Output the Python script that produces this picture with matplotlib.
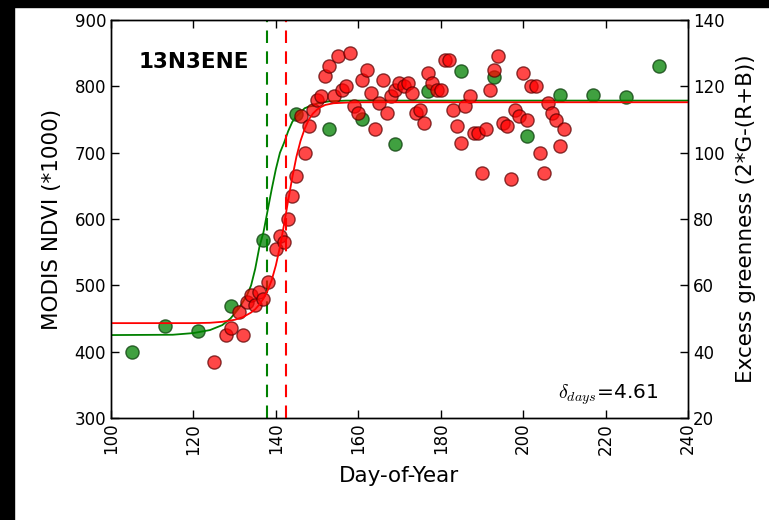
"""Spring green-up at site 13N3ENE: MODIS NDVI vs camera excess greenness."""
import numpy as np
import matplotlib
matplotlib.use("Agg")
import matplotlib.pyplot as plt  # noqa: E402
from matplotlib.patches import Rectangle  # noqa: E402

plt.rcParams["font.family"] = "DejaVu Sans"
plt.rcParams["mathtext.fontset"] = "cm"

SITE = "13N3ENE"
DELTA_DAYS = 4.61

# MODIS NDVI (*1000), daily
ndvi_doy = [125, 128, 129, 131, 132, 133, 134, 135, 136, 137, 138, 140, 141,
            142, 143, 144, 145, 146, 147, 148, 149, 150, 151, 152, 153, 154,
            155, 156, 157, 158, 159, 160, 161, 162, 163, 164, 165, 166, 167,
            168, 169, 170, 171, 172, 173, 174, 175, 176, 177, 178, 179, 180,
            181, 182, 183, 184, 185, 186, 187, 188, 189, 190, 191, 192, 193,
            194, 195, 196, 197, 198, 199, 200, 201, 202, 203, 204, 205, 206,
            207, 208, 209, 210]
ndvi_val = [385, 425, 435, 460, 425, 475, 485, 470, 490, 480, 505, 555, 575,
            565, 600, 635, 665, 755, 700, 740, 765, 780, 785, 815, 830, 785,
            845, 795, 800, 850, 770, 760, 810, 825, 790, 735, 775, 810, 760,
            785, 795, 805, 800, 805, 790, 760, 765, 745, 820, 805, 795, 795,
            840, 840, 765, 740, 715, 770, 785, 730, 730, 670, 735, 795, 825,
            845, 745, 740, 660, 765, 755, 820, 750, 800, 800, 700, 670, 775,
            760, 750, 710, 735]

# camera excess greenness, 8-day
exg_doy = [105, 113, 121, 129, 137, 145, 153, 161, 169, 177, 185, 193, 201,
           209, 217, 225, 233]
exg_val = [40.0, 47.8, 46.2, 53.9, 73.7, 111.7, 107.0, 110.2, 102.5, 118.6,
           124.6, 122.9, 105.0, 117.3, 117.3, 116.7, 126.1]

# fitted curves
ndvi_fit_doy = [100, 120, 124, 127, 130, 132, 134, 135, 136, 137, 138, 139,
                140, 141, 142, 143, 144, 145, 146, 147, 148, 149, 150, 151,
                152, 154, 157, 160, 240]
ndvi_fit_val = [443, 443, 443.5, 445, 448, 452, 459, 464, 471, 480, 492, 508,
                530, 558, 592, 628, 663, 694, 718, 736, 750, 759, 765, 769,
                772, 774.5, 775.5, 776, 776]
exg_fit_doy = [100, 115, 120, 124, 127, 129, 131, 133, 134, 135, 136, 137,
               138, 139, 140, 141, 142, 143, 144, 145, 146, 147, 148, 149,
               150, 153, 157, 240]
exg_fit_val = [45.0, 45.1, 45.6, 46.5, 48, 50, 53, 57, 60, 65, 71.5, 76,
               82.5, 89, 95, 100, 103, 106.5, 109.3, 111, 112.2, 113.4, 113.9,
               114.1, 114.9, 115.5, 115.7, 115.7]

# green-up dates (half-amplitude) of each fit
exg_mid = 137.86
ndvi_mid = 142.47

fig = plt.figure(figsize=(7.69, 5.2), dpi=100)
ax = fig.add_axes([0.1443, 0.1962, 0.7504, 0.7653])
ax2 = ax.twinx()
ax.set_zorder(ax2.get_zorder() + 1)
ax.patch.set_visible(False)

ax2.plot(exg_doy, exg_val, "o", color="g", alpha=0.75, ms=9.5, mec="#0b3d0b",
         mew=1.0)
ax2.plot(exg_fit_doy, exg_fit_val, "-", color="g", lw=1.3)
ax2.axvline(exg_mid, color="g", ls=(0, (6, 4)), lw=1.5)

ax.plot(ndvi_doy, ndvi_val, "o", color="r", alpha=0.72, ms=9.5, mec="#5a0000",
        mew=1.0)
ax.plot(ndvi_fit_doy, ndvi_fit_val, "-", color="r", lw=1.3)
ax.axvline(ndvi_mid, color="r", ls=(0, (6, 4)), lw=1.5)

ax.set_xlim(100, 240)
ax.set_ylim(300, 900)
ax2.set_ylim(20, 140)
ax.set_xticks(np.arange(100, 241, 20))
ax.set_yticks(np.arange(300, 901, 100))
ax2.set_yticks(np.arange(20, 141, 20))
for a in (ax, ax2):
    a.tick_params(direction="in", length=6, width=1, labelsize=12)
    for s in a.spines.values():
        s.set_linewidth(1.0)
ax.tick_params(axis="x", top=True, labelrotation=90)
ax.tick_params(axis="y", right=False)

ax.set_xlabel("Day-of-Year", fontsize=15.5, labelpad=8)
ax.set_ylabel("MODIS NDVI (*1000)", fontsize=15.5, labelpad=9)
ax2.set_ylabel("Excess greenness (2*G-(R+B))", fontsize=15.5, labelpad=8)

ax.text(0.047, 0.894, SITE, transform=ax.transAxes, fontsize=15.5,
        fontweight="bold", va="center", ha="left")
ax.text(0.948, 0.048, r"$\delta_{days}$=%.2f" % DELTA_DAYS,
        transform=ax.transAxes, fontsize=14.5, ha="right", va="baseline")

# black frame strips at the left and top edges
fig.patches.append(Rectangle((0, 0), 14 / 769, 1, transform=fig.transFigure,
                             color="k", zorder=10))
fig.patches.append(Rectangle((0, 1 - 7 / 520), 1, 7 / 520,
                             transform=fig.transFigure, color="k", zorder=10))

fig.savefig("out.png", dpi=100)
